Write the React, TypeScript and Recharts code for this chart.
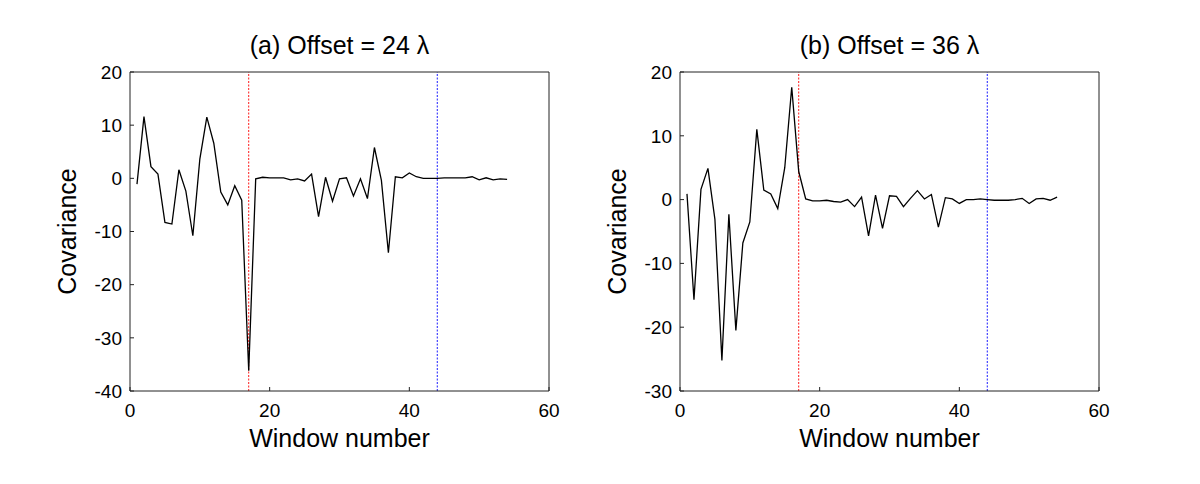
import { LineChart, Line, XAxis, YAxis, ReferenceLine } from "recharts";

const windows = [
  1, 2, 3, 4, 5, 6, 7, 8, 9, 10, 11, 12, 13, 14, 15, 16, 17, 18, 19, 20, 21, 22, 23, 24, 25, 26, 27,
  28, 29, 30, 31, 32, 33, 34, 35, 36, 37, 38, 39, 40, 41, 42, 43, 44, 45, 46, 47, 48, 49, 50, 51, 52,
  53, 54,
];

// covariance per window, offset = 24 lambda
const cov24 = [
  -1.1, 11.6, 2.2, 0.8, -8.3, -8.6, 1.6, -2.4, -10.8, 3.6, 11.5, 6.6, -2.6, -5.0, -1.4, -4.1, -36.2,
  -0.1, 0.2, 0.1, 0.1, 0.1, -0.3, -0.1, -0.5, 0.8, -7.2, 0.2, -4.3, -0.1, 0.1, -3.3, -0.1, -3.8, 5.8,
  -0.4, -14.0, 0.3, 0.1, 1.0, 0.3, 0, 0, 0, 0.1, 0.1, 0.1, 0.1, 0.3, -0.3, 0.1, -0.3, -0.1, -0.2,
];

// covariance per window, offset = 36 lambda
const cov36 = [
  0.9, -15.7, 1.6, 4.9, -3.1, -25.2, -2.3, -20.5, -6.8, -3.5, 11.0, 1.5, 0.9, -1.4, 5.0, 17.6, 4.4,
  0.1, -0.2, -0.2, -0.1, -0.3, -0.4, 0, -1.1, 0.4, -5.7, 0.7, -4.5, 0.6, 0.5, -1.1, 0.2, 1.4, 0.1,
  0.8, -4.3, 0.3, 0.1, -0.6, 0, 0, 0.1, 0, -0.1, -0.1, -0.1, 0, 0.2, -0.6, 0.1, 0.2, -0.1, 0.4,
];

const xTicks = [0, 20, 40, 60];
const yTicksA = [-40, -30, -20, -10, 0, 10, 20];
const yTicksB = [-30, -20, -10, 0, 10, 20];

const redMark = 17;
const blueMark = 44;

const FONT = "'Liberation Sans', Arial, Helvetica, sans-serif";

type PanelProps = {
  title: string;
  values: number[];
  yTicks: number[];
  left: number;
};

function Panel({ title, values, yTicks, left }: PanelProps) {
  const data = windows.map((w, i) => ({ w, v: values[i] }));
  const yDomain = [yTicks[0], yTicks[yTicks.length - 1]];

  return (
    <div style={{ position: "absolute", left, top: 0, width: 600, height: 484 }}>
      <div
        style={{
          position: "absolute",
          left: 130,
          top: 33,
          width: 419,
          textAlign: "center",
          fontSize: 25,
          lineHeight: "25px",
          color: "#000",
        }}
      >
        {title}
      </div>
      <LineChart
        width={600}
        height={484}
        data={data}
        margin={{ top: 71, right: 50, bottom: 63, left: 70 }}
      >
        <XAxis
          dataKey="w"
          type="number"
          domain={[0, 60]}
          ticks={xTicks}
          interval={0}
          height={30}
          stroke="#222"
          tickSize={-4}
          tickMargin={17}
          tick={{ fill: "#000", fontSize: 19 }}
          label={{
            value: "Window number",
            position: "bottom",
            offset: 8,
            style: { fill: "#000", fontSize: 25 },
          }}
        />
        <XAxis
          xAxisId="top"
          orientation="top"
          type="number"
          domain={[0, 60]}
          ticks={xTicks}
          interval={0}
          height={1}
          stroke="#222"
          tickSize={-4}
          tick={false}
        />
        <YAxis
          type="number"
          domain={yDomain}
          ticks={yTicks}
          interval={0}
          width={60}
          stroke="#222"
          tickSize={-4}
          tickMargin={12}
          tick={{ fill: "#000", fontSize: 19 }}
          label={{
            value: "Covariance",
            angle: -90,
            position: "insideLeft",
            offset: -3,
            style: { fill: "#000", fontSize: 25, textAnchor: "middle" },
          }}
        />
        <YAxis
          yAxisId="right"
          orientation="right"
          type="number"
          domain={yDomain}
          ticks={yTicks}
          interval={0}
          width={1}
          stroke="#222"
          tickSize={-4}
          tick={false}
        />
        <ReferenceLine x={redMark} stroke="#ff1a1a" strokeWidth={1} strokeDasharray="2 1.5" />
        <ReferenceLine x={blueMark} stroke="#1a1aff" strokeWidth={1} strokeDasharray="2 1.5" />
        <Line
          dataKey="v"
          type="linear"
          stroke="#000"
          strokeWidth={1.3}
          dot={false}
          isAnimationActive={false}
        />
      </LineChart>
    </div>
  );
}

export default function App() {
  return (
    <div
      style={{
        position: "absolute",
        left: 0,
        top: 0,
        width: 1200,
        height: 484,
        background: "#fff",
        fontFamily: FONT,
      }}
    >
      <Panel title="(a) Offset = 24 λ" values={cov24} yTicks={yTicksA} left={0} />
      <Panel title="(b) Offset = 36 λ" values={cov36} yTicks={yTicksB} left={550} />
    </div>
  );
}
